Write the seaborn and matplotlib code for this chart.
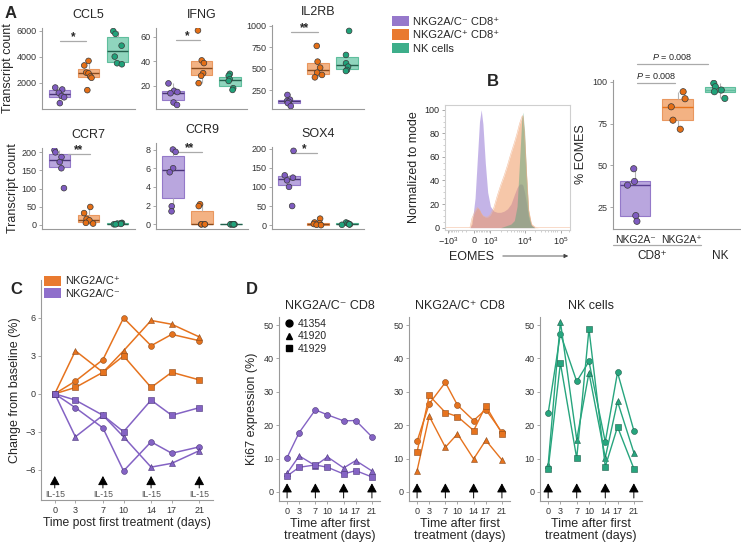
import numpy as np
import pandas as pd
import matplotlib
matplotlib.use("Agg")
import matplotlib.pyplot as plt
from matplotlib.patches import Patch
from matplotlib.lines import Line2D
from matplotlib.ticker import FixedLocator
import seaborn as sns

np.random.seed(7)

# ---------------- data ----------------
groups = ["NKG2A/C⁻ CD8⁺", "NKG2A/C⁺ CD8⁺", "NK cells"]

ccl5_neg = [1650, 1500, 1250, 1000, 900, 450]
ccl5_pos = [3700, 3350, 2800, 2750, 2500, 2400, 1450]
ccl5_nk = [5990, 5780, 4870, 4030, 3520, 3440]
ifng_neg = [22, 16, 15, 14, 6.5, 4.5]
ifng_pos = [65, 40.7, 38.5, 30.3, 28.2, 22.2]
ifng_nk = [29.8, 28.2, 25.4, 24, 18.1, 16.7]
il2rb_neg = [195, 140, 125, 115, 100, 65]
il2rb_pos = [766, 583, 513, 455, 428, 400]
il2rb_nk = [941, 661, 564, 525, 486, 474]
ccr7_neg = [206, 200, 187, 173, 156, 101]
ccr7_pos = [49, 32, 16, 12, 5, 3]
ccr7_nk = [5, 4, 3, 2, 1, 1]
ccr9_neg = [8.0, 7.75, 6.0, 5.57, 1.93, 1.39]
ccr9_pos = [2.15, 1.95, 0, 0, 0, 0]
ccr9_nk = [0, 0, 0, 0, 0, 0]
sox4_neg = [194, 130, 124, 117, 100, 50]
sox4_pos = [17, 7, 5, 3, 1, 0]
sox4_nk = [7, 5, 3, 2, 2, 1]
sig_labels = {"CCL5": "*", "IFNG": "*", "IL2RB": "**", "CCR7": "**", "CCR9": "**", "SOX4": "*"}

# EOMES histogram (display units of the flow axis) and heights (% of mode)
eomes_u = [0.6, 1.40, 1.46, 1.55, 1.62, 1.68, 1.73, 1.78, 1.85, 1.92, 2.0, 2.1, 2.2, 2.3, 2.4, 2.5,
           2.6, 2.7, 2.78, 2.85, 2.92, 2.95, 3.0, 3.06, 3.12, 3.2, 3.3, 3.4, 4.4]
eomes_neg = [0, 0, 3, 25, 60, 90, 100, 88, 55, 30, 18, 14, 13, 13, 14, 16,
             20, 28, 34, 37, 37, 36, 30, 20, 8, 2, 0, 0, 0]
eomes_pos = [0, 0, 8, 14, 17, 15, 12, 10, 9, 9, 11, 17, 27, 36, 44, 53,
             63, 72, 80, 88, 94, 95, 78, 45, 15, 3, 0.5, 0, 0]
eomes_nk = [0, 0, 0, 0, 0, 0, 0, 0, 0, 0, 0, 0, 0, 0, 1, 2,
            3, 6, 18, 55, 93, 98, 82, 42, 12, 2, 0, 0, 0]
eomes_tick_pos = [0.76, 1.52, 2.0, 3.0, 4.06]
eomes_tick_lab = [r"$-10^{3}$", "0", r"$10^{3}$", r"$10^{4}$", r"$10^{5}$"]

pct_groups = ["NKG2A⁻", "NKG2A⁺", "NK"]
pct_neg = [48, 40.4, 38.2, 20, 16.6]
pct_pos = [94, 89.8, 85, 77, 71.6]
pct_nk = [99, 97, 95, 94, 90]

days = [0, 3, 7, 10, 14, 17, 21]
il15_days = [0, 7, 14, 21]
c_pos_circle = [0, 1.0, 2.7, 6.0, 3.8, 4.7, 4.2]
c_pos_triangle = [0, 3.4, 1.7, 3.4, 5.8, 5.5, 4.5]
c_pos_square = [0, 0.5, 1.7, 3.0, 0.5, 1.7, 1.1]
c_neg_circle = [0, -1.1, -2.7, -6.1, -3.8, -4.7, -4.2]
c_neg_triangle = [0, -3.4, -1.7, -3.4, -5.8, -5.5, -4.5]
c_neg_square = [0, -0.5, -1.7, -3.0, -0.5, -1.7, -1.1]

donors = ["41354", "41920", "41929"]
ki67_neg = {"41354": [10.3, 17.8, 24.6, 23.1, 21.3, 21.4, 16.5],
            "41920": [5.6, 10.8, 7.9, 10.5, 7.2, 9.4, 6.3],
            "41929": [4.8, 7.4, 8.1, 7.4, 5.4, 6.4, 4.5]}
ki67_pos = {"41354": [15.2, 26.4, 32.8, 26.0, 21.4, 24.7, 17.9],
            "41920": [6.4, 22.7, 13.4, 17.4, 9.9, 15.5, 9.6],
            "41929": [12.0, 28.9, 23.8, 22.6, 18.4, 25.8, 17.5]}
ki67_nk = {"41354": [23.6, 47.4, 33.1, 39.1, 15.0, 35.8, 18.4],
           "41920": [8.1, 51.0, 15.7, 35.7, 10.3, 27.1, 11.8],
           "41929": [6.9, 38.6, 10.1, 48.8, 7.6, 19.5, 7.0]}

# ---------------- style ----------------
sns.set_style("ticks")
FONT = ["Liberation Sans", "DejaVu Sans"]
plt.rcParams["font.family"] = FONT
plt.rcParams["mathtext.fontset"] = "custom"
plt.rcParams["mathtext.rm"] = "Liberation Sans"
plt.rcParams["mathtext.it"] = "Liberation Sans:italic"

PUR, ORA, GRN = "#7f5cc0", "#e56f16", "#20a27a"
pt_colors = [PUR, ORA, GRN]
box_fill = ["#b9a6de", "#f3b283", "#8fd5bd"]
box_edge = ["#9479c9", "#e9975f", "#5fbe9d"]
box_med = ["#4a3578", "#8a4a1c", "#24604d"]
leg_colors = ["#9678cb", "#e97a2f", "#3dae8a"]
line_cols = {"pos": "#e6731e", "neg": "#8463c4", "nk": "#27a57e"}
SPINE = "#9a9a9a"
TICK = 6.5

W, H = 741, 548
fig = plt.figure(figsize=(W / 100, H / 100), dpi=100)


def rect(l, t, r, b):
    return [l / W, 1 - b / H, (r - l) / W, (b - t) / H]


def style_axes(ax, labelsize=TICK):
    sns.despine(ax=ax)
    for s in ("left", "bottom"):
        ax.spines[s].set_color(SPINE)
        ax.spines[s].set_linewidth(0.8)
    ax.tick_params(colors="#333333", labelsize=labelsize, length=2.5, width=0.6, pad=1.5)
    ax.tick_params(axis="both", color=SPINE)


def box_panel(ax, title, series, ylim, yticks, sig, sig_y, sig_x=(0.1, 0.95),
              labels=None, width=0.75, psize=4.1, jitter=0.17, meds=box_med):
    names = labels or groups
    rows = [(g, v) for g, vals in zip(names, series) for v in vals]
    df = pd.DataFrame(rows, columns=["group", "value"])
    for g, fc, ec, mc in zip(names, box_fill, box_edge, meds):
        sub = df[df.group == g]
        sns.boxplot(data=sub, x="group", y="value", order=names, color=fc, linecolor=ec,
                    saturation=1, width=width, showfliers=False, showcaps=False, linewidth=0.8,
                    medianprops=dict(color=mc, linewidth=1.0),
                    whiskerprops=dict(color="#b5b5b5", linewidth=0.8), ax=ax)
    sns.stripplot(data=df, x="group", y="value", order=names, hue="group", hue_order=names,
                  palette=pt_colors, size=psize, linewidth=0.5, edgecolor="#3a3a3a",
                  jitter=jitter, legend=False, ax=ax)
    ax.set_xlim(-0.6, 2.6)
    ax.set_ylim(*ylim)
    ax.set_yticks(yticks)
    ax.set_xticks([])
    ax.set_xlabel("")
    ax.set_ylabel("")
    style_axes(ax)
    if title:
        ax.set_title(title, fontsize=9, pad=7.5)
    if sig:
        tr = ax.get_xaxis_transform()
        ax.plot(sig_x, [sig_y, sig_y], color="#aaaaaa", lw=0.9, transform=tr, clip_on=False)
        ax.annotate(sig, xy=(np.mean(sig_x), sig_y), xycoords=tr, xytext=(0, -1.5),
                    textcoords="offset points", ha="center", va="bottom", fontsize=8.5,
                    fontweight="bold")


# ---------------- Panel A ----------------
specs = [
    ("CCL5", [ccl5_neg, ccl5_pos, ccl5_nk], (0, 6230), [2000, 4000, 6000], 0.84, (0.03, 0.9), (42, 28, 135, 109)),
    ("IFNG", [ifng_neg, ifng_pos, ifng_nk], (1.2, 67), [20, 40, 60], 0.85, (0.1, 0.93), (156, 28, 247, 109)),
    ("IL2RB", [il2rb_neg, il2rb_pos, il2rb_nk], (31, 1010), [250, 500, 750, 1000], 0.92, (0.07, 1.0), (272, 25, 364, 109)),
    ("CCR7", [ccr7_neg, ccr7_pos, ccr7_nk], (-12, 212), [0, 50, 100, 150, 200], 0.93, (0.3, 1.05), (42, 148, 135, 229)),
    ("CCR9", [ccr9_neg, ccr9_pos, ccr9_nk], (-0.5, 8.7), [0, 2, 4, 6, 8], 0.89, (0.15, 1.0), (156, 143, 248, 229)),
    ("SOX4", [sox4_neg, sox4_pos, sox4_nk], (-10, 204), [0, 50, 100, 150, 200], 0.93, (0.07, 0.96), (272, 147, 364, 229)),
]
for i, (g, ser, yl, yt, sy, sx, rc) in enumerate(specs):
    ax = fig.add_axes(rect(*rc))
    box_panel(ax, g, ser, yl, yt, sig_labels[g], sy, sx)
    if i in (0, 3):
        ax.set_ylabel("Transcript count", fontsize=9, labelpad=2)

fig.legend(handles=[Patch(fc=c, ec="none") for c in leg_colors], labels=groups,
           loc="upper left", bbox_to_anchor=(392 / W, 1 - 16 / H), frameon=False, fontsize=8,
           handlelength=1.5, handleheight=1.05, handletextpad=0.4, labelspacing=0.22,
           borderaxespad=0, borderpad=0)

# ---------------- Panel B histogram ----------------
axh = fig.add_axes(rect(445, 105, 570, 230))
for vals, col, a in [(eomes_neg, "#b6a2e2", 0.8), (eomes_pos, "#f09a63", 0.55), (eomes_nk, "#4fa47a", 0.45)]:
    axh.fill_between(eomes_u, 0, vals, color=col, alpha=a, lw=0)
axh.plot(eomes_u, eomes_pos, color="#f0b08a", lw=0.4, alpha=0.8)
axh.set_xlim(0.67, 4.33)
axh.set_ylim(-2, 104)
axh.set_yticks([0, 20, 40, 60, 80, 100])
axh.set_xticks(eomes_tick_pos)
axh.set_xticklabels(eomes_tick_lab)
minor_x = [2 + np.log10(k) for k in range(2, 10)] + [3 + np.log10(k) for k in range(2, 10)] + \
          [4 + np.log10(k) for k in range(2, 3)] + [1.52 - 0.76 * np.log10(k) / 1 for k in range(2, 10)] + \
          [1.52 + 0.48 * k / 10 for k in range(1, 10)]
axh.xaxis.set_minor_locator(FixedLocator(minor_x))
axh.yaxis.set_minor_locator(FixedLocator(list(range(5, 100, 5))))
for s in axh.spines.values():
    s.set_color("#cfcfcf")
    s.set_linewidth(0.8)
axh.tick_params(labelsize=TICK, length=2.5, width=0.6, color="#999", pad=1.5)
axh.tick_params(which="minor", length=1.5, width=0.4, color="#aaa")
axh.set_ylabel("Normalized to mode", fontsize=9, labelpad=3)
fig.text(472 / W, 1 - 257 / H, "EOMES", fontsize=9, ha="center", va="center")
fig.add_artist(matplotlib.patches.FancyArrowPatch((500 / W, 1 - 256 / H), (571 / W, 1 - 256 / H),
               transform=fig.transFigure, arrowstyle="-|>", mutation_scale=6, lw=0.6, color="#444"))

# ---------------- Panel B box ----------------
axb = fig.add_axes(rect(613, 80, 740, 229))
box_panel(axb, None, [pct_neg, pct_pos, pct_nk], (12, 101), [25, 50, 75, 100], None, 0,
          labels=pct_groups, width=0.72, psize=4.5, jitter=0.2,
          meds=["#5a3f92", "#e8731a", "#5fbe9d"])
axb.set_xlim(-0.52, 2.47)
axb.set_ylabel("% EOMES", fontsize=9, labelpad=4)
for x0, x1, yv in [(0.05, 0.95, 99.4), (0.05, 1.72, 110.5)]:
    axb.plot([x0, x1], [yv, yv], color="#aaaaaa", lw=0.9, clip_on=False)
    axb.text((x0 + x1) / 2, yv + 1.0, r"$P$ = 0.008", ha="center", va="bottom", fontsize=6.5)
tb = axb.get_xaxis_transform()
axb.text(0, -0.04, pct_groups[0], transform=tb, ha="center", va="top", fontsize=7.5)
axb.text(1.1, -0.04, pct_groups[1], transform=tb, ha="center", va="top", fontsize=7.5)
axb.plot([-0.52, 1.55], [-0.105, -0.105], transform=tb, color="#aaaaaa", lw=0.9, clip_on=False)
axb.text(0.4, -0.14, "CD8⁺", transform=tb, ha="center", va="top", fontsize=8.5)
axb.text(2.0, -0.14, "NK", transform=tb, ha="center", va="top", fontsize=8.5)


def arrows(ax, y0, y1, text_y=None):
    for d in il15_days:
        ax.annotate("", xy=(d, y1), xytext=(d, y0),
                    arrowprops=dict(arrowstyle="-|>,head_length=0.55,head_width=0.3",
                                    fc="black", ec="black", lw=0.7, shrinkA=0, shrinkB=0))
        if text_y is not None:
            ax.text(d, text_y, "IL-15", ha="center", va="center", fontsize=6.3, color="#555555")


def day_axes(ax, ylim, yticks):
    ax.set_xlim(-2, 23)
    ax.set_ylim(*ylim)
    ax.set_xticks(days)
    ax.set_yticks(yticks)
    style_axes(ax)


# ---------------- Panel C ----------------
axc = fig.add_axes(rect(41, 280, 213, 500))
for vals, m in [(c_pos_circle, "o"), (c_pos_triangle, "^"), (c_pos_square, "s")]:
    sns.lineplot(x=days, y=vals, color=line_cols["pos"], marker=m, markersize=4.2,
                 markeredgecolor="#8a4a1c", markeredgewidth=0.4, linewidth=1.1, ax=axc)
for vals, m in [(c_neg_circle, "o"), (c_neg_triangle, "^"), (c_neg_square, "s")]:
    sns.lineplot(x=days, y=vals, color=line_cols["neg"], marker=m, markersize=4.2,
                 markeredgecolor="#4a3578", markeredgewidth=0.4, linewidth=1.1, ax=axc)
day_axes(axc, (-8.4, 9.0), [-6, -3, 0, 3, 6])
arrows(axc, -7.45, -6.5, text_y=-8.0)
axc.set_ylabel("Change from baseline (%)", fontsize=9, labelpad=3)
axc.set_xlabel("Time post first treatment (days)", fontsize=8.7, labelpad=2)
axc.legend(handles=[Patch(fc="#e97a2f", ec="none"), Patch(fc="#8f6fcb", ec="none")],
           labels=["NKG2A/C⁺", "NKG2A/C⁻"], loc="upper left", bbox_to_anchor=(0.02, 1.02),
           frameon=False, fontsize=8, handlelength=1.5, handleheight=1.0,
           handletextpad=0.4, labelspacing=0.15, borderaxespad=0, borderpad=0)

# ---------------- Panel D ----------------
d_specs = [("NKG2A/C⁻ CD8", ki67_neg, "neg", "#4a3578", (279, 317, 380, 501)),
           ("NKG2A/C⁺ CD8", ki67_pos, "pos", "#8a4a1c", (409, 317, 510, 501)),
           ("NK cells", ki67_nk, "nk", "#1d5e4a", (540, 317, 642, 501))]
markers = dict(zip(donors, ["o", "^", "s"]))
for i, (title, data, key, ec, rc) in enumerate(d_specs):
    ax = fig.add_axes(rect(*rc))
    for dn in donors:
        sns.lineplot(x=days, y=data[dn], color=line_cols[key], marker=markers[dn], markersize=4.3,
                     markeredgecolor=ec, markeredgewidth=0.4, linewidth=1.0, ax=ax)
    day_axes(ax, (-2.7, 52.4), [0, 10, 20, 30, 40, 50])
    arrows(ax, -1.8, 2.6)
    ax.set_title(title, fontsize=9, pad=6)
    ax.set_xlabel("Time after first\ntreatment (days)", fontsize=9, labelpad=2, linespacing=1.0)
    if i == 0:
        ax.set_ylabel("Ki67 expression (%)", fontsize=9, labelpad=4)
        ax.legend(handles=[Line2D([], [], marker=markers[d], color="black", ls="none", markersize=5)
                           for d in donors],
                  labels=donors, loc="upper left", bbox_to_anchor=(0.05, 0.99), frameon=False,
                  fontsize=7.5, handlelength=1.0, handletextpad=0.3, labelspacing=0.25,
                  borderaxespad=0, borderpad=0)

# ---------------- panel letters ----------------
for letter, x, y in [("A", 11, 13), ("B", 493, 82), ("C", 16, 290), ("D", 252, 290)]:
    fig.text(x / W, 1 - y / H, letter, fontsize=12, fontweight="bold", ha="center", va="center")

fig.savefig("out.png", dpi=100)
